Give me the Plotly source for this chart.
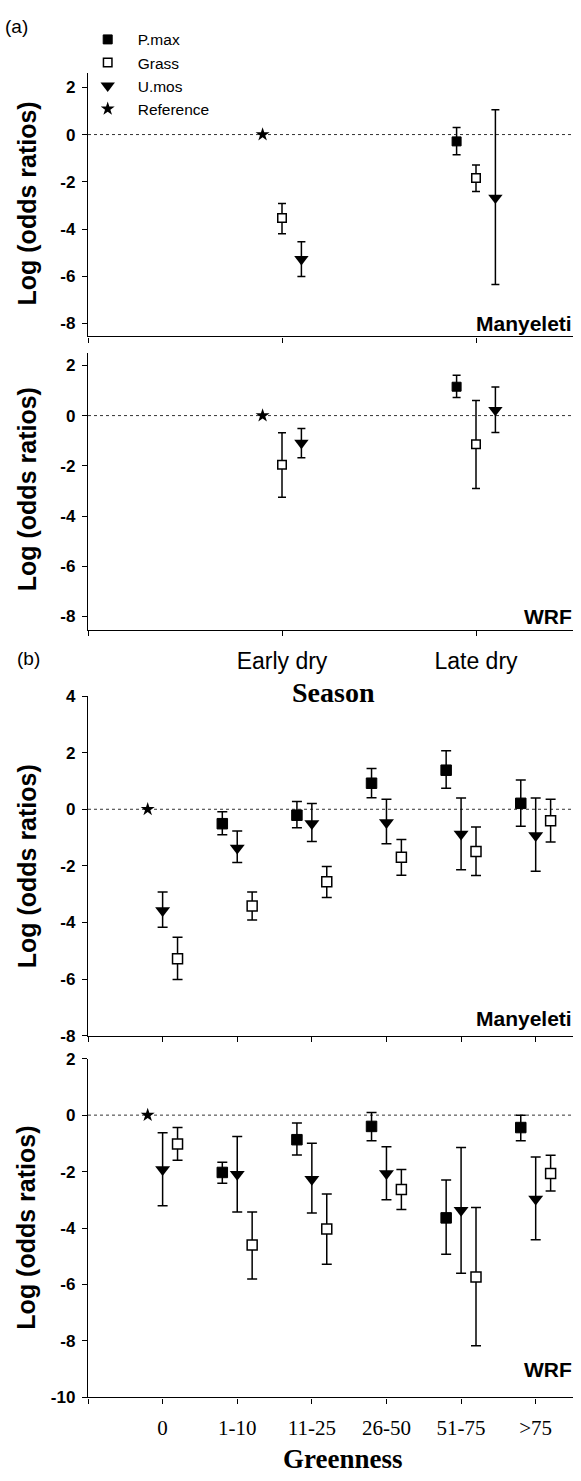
import plotly.graph_objects as go

# ---------------- data ----------------
season_labels = ["Early dry", "Late dry"]
greenness_labels = ["0", "1-10", "11-25", "26-50", "51-75", ">75"]
y_tick_values = [-10, -8, -6, -4, -2, 0, 2, 4]

# (a) Season - Manyeleti
a_man_pmax = [None, -0.29]
a_man_pmax_hi = [None, 0.30]
a_man_pmax_lo = [None, -0.85]
a_man_grass = [-3.53, -1.84]
a_man_grass_hi = [-2.92, -1.29]
a_man_grass_lo = [-4.20, -2.41]
a_man_umos = [-5.28, -2.68]
a_man_umos_hi = [-4.54, 1.05]
a_man_umos_lo = [-6.01, -6.35]
a_man_ref = [0.0, None]

# (a) Season - WRF
a_wrf_pmax = [None, 1.15]
a_wrf_pmax_hi = [None, 1.61]
a_wrf_pmax_lo = [None, 0.72]
a_wrf_grass = [-1.96, -1.14]
a_wrf_grass_hi = [-0.68, 0.60]
a_wrf_grass_lo = [-3.25, -2.90]
a_wrf_umos = [-1.09, 0.22]
a_wrf_umos_hi = [-0.51, 1.14]
a_wrf_umos_lo = [-1.68, -0.67]
a_wrf_ref = [0.0, None]

# (b) Greenness - Manyeleti
b_man_pmax = [None, -0.51, -0.21, 0.92, 1.38, 0.21]
b_man_pmax_hi = [None, -0.09, 0.27, 1.44, 2.07, 1.03]
b_man_pmax_lo = [None, -0.90, -0.65, 0.41, 0.74, -0.60]
b_man_umos = [-3.58, -1.37, -0.50, -0.47, -0.87, -0.93]
b_man_umos_hi = [-2.92, -0.77, 0.20, 0.35, 0.40, 0.40]
b_man_umos_lo = [-4.17, -1.88, -1.14, -1.22, -2.14, -2.19]
b_man_grass = [-5.28, -3.42, -2.56, -1.70, -1.49, -0.41]
b_man_grass_hi = [-4.52, -2.92, -2.02, -1.07, -0.63, 0.35]
b_man_grass_lo = [-6.02, -3.91, -3.12, -2.33, -2.34, -1.16]
b_man_ref = [0.0, None, None, None, None, None]

# (b) Greenness - WRF
b_wrf_pmax = [None, -2.03, -0.87, -0.40, -3.64, -0.44]
b_wrf_pmax_hi = [None, -1.67, -0.28, 0.09, -2.30, 0.00]
b_wrf_pmax_lo = [None, -2.41, -1.41, -0.91, -4.93, -0.91]
b_wrf_umos = [-1.93, -2.09, -2.27, -2.07, -3.37, -2.97]
b_wrf_umos_hi = [-0.62, -0.76, -1.00, -1.12, -1.15, -1.48]
b_wrf_umos_lo = [-3.21, -3.43, -3.47, -3.00, -5.60, -4.41]
b_wrf_grass = [-1.02, -4.60, -4.03, -2.63, -5.73, -2.07]
b_wrf_grass_hi = [-0.44, -3.43, -2.79, -1.93, -3.27, -1.42]
b_wrf_grass_lo = [-1.60, -5.80, -5.28, -3.34, -8.17, -2.69]
b_wrf_ref = [0.0, None, None, None, None, None]

# ---------------- layout helpers ----------------
W, H = 581, 1481
def px_x(x):
    return x / W
def px_y(y):
    return 1 - y / H

SANS = "Liberation Sans"
SERIF = "Liberation Serif"

fig = go.Figure()

def errs(vals, hi, lo):
    plus = [None if v is None else h - v for v, h in zip(vals, hi)]
    minus = [None if v is None else v - l for v, l in zip(vals, lo)]
    return plus, minus

STYLE = {
    "pmax": dict(symbol="square", color="black", line=dict(color="black", width=1)),
    "grass": dict(symbol="square", color="white", line=dict(color="black", width=1.5)),
    "umos": dict(symbol="triangle-down", color="black", line=dict(color="black", width=0)),
    "ref": dict(symbol="star", color="black", line=dict(color="black", width=0)),
}
NAMES = {"pmax": "P.max", "grass": "Grass", "umos": "U.mos", "ref": "Reference"}

def add_series(kind, vals, hi, lo, offset, xa, ya, size, capw, showlegend=False):
    xs = [i + 1 + offset for i in range(len(vals))]
    marker = dict(size=size, **STYLE[kind])
    tr = dict(x=xs, y=vals, mode="markers", marker=marker, name=NAMES[kind],
              xaxis=xa, yaxis=ya, showlegend=showlegend, cliponaxis=False)
    if hi is not None:
        plus, minus = errs(vals, hi, lo)
        tr["error_y"] = dict(type="data", symmetric=False, array=plus, arrayminus=minus,
                             thickness=1.5, width=capw, color="black")
    fig.add_trace(go.Scatter(**tr))

# (a) offsets: P.max/Ref -0.1, Grass 0, U.mos +0.1
add_series("pmax", a_man_pmax, a_man_pmax_hi, a_man_pmax_lo, -0.1, "x", "y", 9, 4, True)
add_series("grass", a_man_grass, a_man_grass_hi, a_man_grass_lo, 0.0, "x", "y", 8.5, 4, True)
add_series("umos", a_man_umos, a_man_umos_hi, a_man_umos_lo, 0.1, "x", "y", 12.5, 4, True)
add_series("ref", a_man_ref, None, None, -0.1, "x", "y", 10.5, 4, True)

add_series("pmax", a_wrf_pmax, a_wrf_pmax_hi, a_wrf_pmax_lo, -0.1, "x2", "y2", 9, 4)
add_series("grass", a_wrf_grass, a_wrf_grass_hi, a_wrf_grass_lo, 0.0, "x2", "y2", 8.5, 4)
add_series("umos", a_wrf_umos, a_wrf_umos_hi, a_wrf_umos_lo, 0.1, "x2", "y2", 12.5, 4)
add_series("ref", a_wrf_ref, None, None, -0.1, "x2", "y2", 10.5, 4)

# (b) offsets: P.max/Ref -0.2, U.mos 0, Grass +0.2
add_series("pmax", b_man_pmax, b_man_pmax_hi, b_man_pmax_lo, -0.2, "x3", "y3", 10.5, 5)
add_series("umos", b_man_umos, b_man_umos_hi, b_man_umos_lo, 0.0, "x3", "y3", 13, 5)
add_series("grass", b_man_grass, b_man_grass_hi, b_man_grass_lo, 0.2, "x3", "y3", 10, 5)
add_series("ref", b_man_ref, None, None, -0.2, "x3", "y3", 10.5, 5)

add_series("pmax", b_wrf_pmax, b_wrf_pmax_hi, b_wrf_pmax_lo, -0.2, "x4", "y4", 10.5, 5)
add_series("umos", b_wrf_umos, b_wrf_umos_hi, b_wrf_umos_lo, 0.0, "x4", "y4", 13, 5)
add_series("grass", b_wrf_grass, b_wrf_grass_hi, b_wrf_grass_lo, 0.2, "x4", "y4", 10, 5)
add_series("ref", b_wrf_ref, None, None, -0.2, "x4", "y4", 10.5, 5)

# ---------------- axes ----------------
XDOM = [px_x(88), px_x(573)]
common_axis = dict(showline=True, linecolor="black", linewidth=1.3, ticks="outside",
                   ticklen=5, tickwidth=1.3, tickcolor="black", showgrid=False,
                   zeroline=False)

def yaxis(top, bottom, rng, anchor):
    return dict(domain=[px_y(bottom), px_y(top)], range=rng, anchor=anchor,
                tickmode="array", tickvals=y_tick_values,
                ticktext=[f"<b>{v}</b>" for v in y_tick_values],
                tickfont=dict(family=SANS, size=17, color="black", weight="bold"),
                ticklabelstandoff=3,
                **common_axis)

fig.update_layout(
    xaxis=dict(domain=XDOM, range=[0, 2.5], anchor="y", tickmode="array",
               tickvals=[0, 1, 2], showticklabels=False, **common_axis),
    yaxis=yaxis(65, 331.7, [-8.55, 2.6], "x"),
    xaxis2=dict(domain=XDOM, range=[0, 2.5], anchor="y2", tickmode="array",
                tickvals=[0, 1, 2], ticktext=[""] + season_labels,
                tickfont=dict(family=SANS, size=23, color="black"),
                ticklabelstandoff=5, **common_axis),
    yaxis2=yaxis(348.3, 629.3, [-8.55, 2.5], "x2"),
    xaxis3=dict(domain=XDOM, range=[0, 6.5], anchor="y3", tickmode="array",
                tickvals=list(range(0, 7)), showticklabels=False, **common_axis),
    yaxis3=yaxis(696, 1040, [-8, 4], "x3"),
    xaxis4=dict(domain=XDOM, range=[0, 6.5], anchor="y4", tickmode="array",
                tickvals=list(range(0, 7)), ticktext=[""] + greenness_labels,
                tickfont=dict(family=SERIF, size=21, color="black"),
                ticklabelstandoff=6, **common_axis),
    yaxis4=yaxis(1063.3, 1406.5, [-10, 2], "x4"),
)

# dotted reference lines at 0
for xa, ya in [("x", "y"), ("x2", "y2"), ("x3", "y3"), ("x4", "y4")]:
    fig.add_shape(type="line", xref=f"{xa} domain", yref=ya, x0=0, x1=1, y0=0, y1=0,
                  line=dict(color="#333333", width=1, dash="dot"), layer="below")

# ---------------- annotations ----------------
ann = []
for yc in [197.5, 487, 869, 1235]:
    ann.append(dict(text="Log (odds ratios)", x=px_x(26.5), y=px_y(yc), xref="paper", yref="paper",
                    textangle=-90, showarrow=False, xanchor="center", yanchor="middle",
                    font=dict(family=SANS, size=25, color="black", weight="bold")))
for txt, yc in [("Manyeleti", 319), ("WRF", 615), ("Manyeleti", 1023), ("WRF", 1378)]:
    ann.append(dict(text=f"<b>{txt}</b>", x=px_x(574), y=px_y(yc), xref="paper", yref="paper",
                    showarrow=False, xanchor="right", yanchor="middle",
                    font=dict(family=SANS, size=21, color="black")))
ann.append(dict(text="(a)", x=px_x(16), y=px_y(18), xref="paper", yref="paper", showarrow=False,
                xanchor="center", yanchor="middle", font=dict(family=SANS, size=19, color="black")))
ann.append(dict(text="(b)", x=px_x(28), y=px_y(658), xref="paper", yref="paper", showarrow=False,
                xanchor="center", yanchor="middle", font=dict(family=SANS, size=19, color="black")))
ann.append(dict(text="<b>Season</b>", x=px_x(333), y=px_y(692), xref="paper", yref="paper",
                showarrow=False, xanchor="center", yanchor="middle",
                font=dict(family=SERIF, size=28, color="black")))
ann.append(dict(text="<b>Greenness</b>", x=px_x(343), y=px_y(1469), xref="paper", yref="paper",
                showarrow=False, xanchor="center", yanchor="middle",
                font=dict(family=SERIF, size=27, color="black")))

fig.update_layout(
    annotations=ann,
    width=W, height=H,
    margin=dict(l=0, r=0, t=0, b=0),
    paper_bgcolor="white", plot_bgcolor="white",
    font=dict(family=SANS, color="black"),
    showlegend=True,
    legend=dict(x=px_x(77.7), y=px_y(14), xanchor="left", yanchor="top",
                font=dict(family=SANS, size=15.5, color="black"),
                itemwidth=50, bgcolor="rgba(0,0,0,0)", borderwidth=0,
                tracegroupgap=0, traceorder="normal"),
)

fig.write_html("out.html")
